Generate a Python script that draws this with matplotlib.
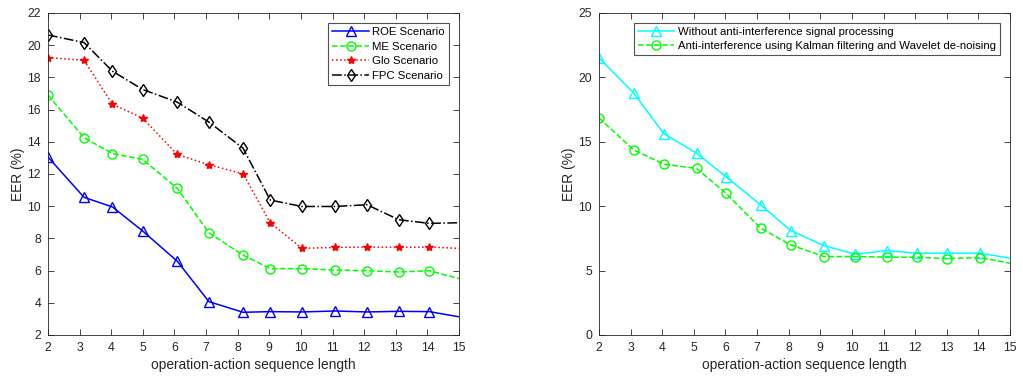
import numpy as np
import matplotlib
matplotlib.use("Agg")
import matplotlib.pyplot as plt

plt.rcParams['font.family'] = ['Liberation Sans', 'DejaVu Sans']

# left panel
x_left = [2, 3.14, 4.04, 5.0, 6.09, 7.09, 8.17, 9.03, 10.03, 11.09, 12.09, 13.09, 14.06, 15]
roe = [13.05, 10.55, 9.95, 8.45, 6.58, 4.07, 3.41, 3.45, 3.43, 3.49, 3.43, 3.47, 3.45, 3.13]
me = [16.9, 14.25, 13.27, 12.9, 11.1, 8.35, 6.96, 6.12, 6.12, 6.03, 5.99, 5.91, 5.99, 5.5]
glo = [19.23, 19.06, 16.33, 15.46, 13.21, 12.57, 12.01, 8.97, 7.38, 7.44, 7.46, 7.44, 7.46, 7.38]
fpc = [20.63, 20.16, 18.38, 17.24, 16.46, 15.22, 13.6, 10.38, 9.98, 9.98, 10.09, 9.16, 8.93, 8.97]

# right panel
x_right = [2, 3.1, 4.05, 5.09, 6.02, 7.12, 8.07, 9.12, 10.1, 11.1, 12.06, 13.0, 14.05, 15]
without = [21.52, 18.78, 15.63, 14.11, 12.28, 10.09, 8.1, 6.94, 6.27, 6.55, 6.35, 6.35, 6.35, 5.96]
kalman = [16.85, 14.37, 13.26, 12.93, 10.99, 8.28, 6.99, 6.09, 6.09, 6.04, 6.04, 5.93, 6.01, 5.57]

xticks = list(range(2, 16))
grey = '#262626'

fig = plt.figure(figsize=(10.23, 3.78), dpi=100)
ax1 = fig.add_axes([0.0469, 0.1138, 0.4018, 0.852])
ax2 = fig.add_axes([0.5855, 0.1138, 0.4018, 0.852])

mk = list(range(13))
ax1.plot(x_left, roe, '-', color='b', marker='^', mfc='none', ms=6.5, lw=1.1, markevery=mk, label='ROE Scenario')
ax1.plot(x_left, me, '--', color='#00ff00', marker='o', mfc='none', ms=6.5, lw=1.1, markevery=mk, label='ME Scenario')
ax1.plot(x_left, glo, ':', color='r', marker='*', ms=6, lw=1.1, markevery=mk, label='Glo Scenario')
ax1.plot(x_left, fpc, '-.', color='k', marker='d', mfc='none', ms=6.5, lw=1.1, markevery=mk, label='FPC Scenario')
ax1.set_ylim(2, 22)
ax1.set_yticks(range(2, 23, 2))

ax2.plot(x_right, without, '-', color='cyan', marker='^', mfc='none', ms=6.5, lw=1.1, markevery=mk,
         label='Without anti-interference signal processing')
ax2.plot(x_right, kalman, '--', color='#00ff00', marker='o', mfc='none', ms=6.5, lw=1.1, markevery=mk,
         label='Anti-interference using Kalman filtering and Wavelet de-noising')
ax2.set_ylim(0, 25)
ax2.set_yticks(range(0, 26, 5))

for ax in (ax1, ax2):
    ax.set_xlim(2, 15)
    ax.set_xticks(xticks)
    ax.tick_params(direction='in', top=True, right=True, labelsize=8.8, colors=grey, length=4, width=0.6, pad=5)
    for s in ax.spines.values():
        s.set_color(grey)
        s.set_linewidth(0.6)
    ax.set_xlabel('operation-action sequence length', fontsize=9.9, color=grey, labelpad=3)
    ax.set_ylabel('EER (%)', fontsize=9.9, color=grey, labelpad=1.5)

leg1 = ax1.legend(loc='upper right', fontsize=8.2, fancybox=False, edgecolor=grey,
                  handlelength=3.2, borderaxespad=0.9, labelspacing=0.4, handletextpad=0.3, borderpad=0.35)
leg1.get_frame().set_linewidth(0.8)
leg2 = ax2.legend(loc='upper right', fontsize=8.2, fancybox=False, edgecolor=grey,
                  handlelength=3.2, borderaxespad=0.9, labelspacing=0.3, handletextpad=0.3, borderpad=0.35)
leg2.get_frame().set_linewidth(0.8)

fig.savefig('out.png', dpi=100)
